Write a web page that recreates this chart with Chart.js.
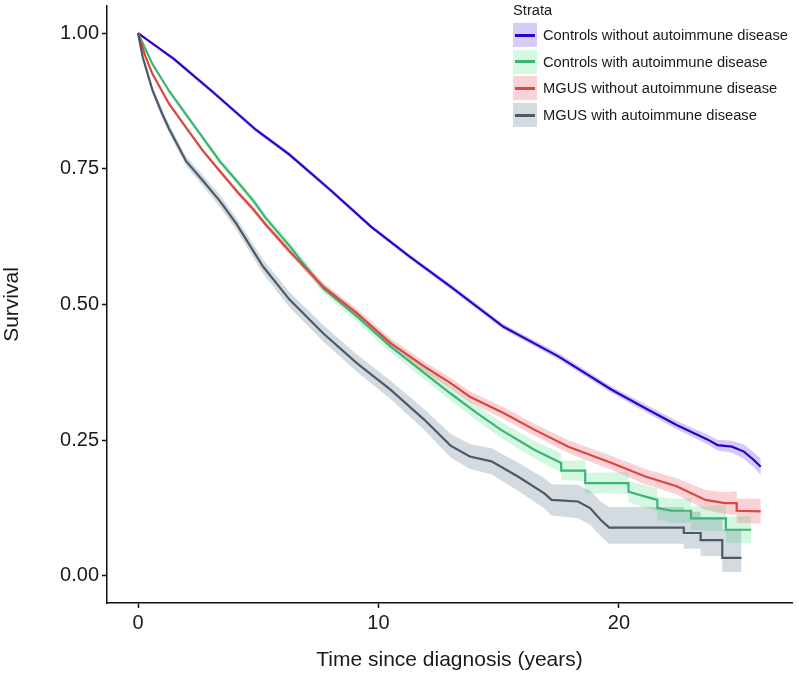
<!DOCTYPE html>
<html>
<head>
<meta charset="utf-8">
<style>
    body { margin: 0; background: #fff; }
    #wrap { position: relative; width: 799px; height: 674px; }
    #legend { position: absolute; left: 0; top: 0; font-family: "Liberation Sans", Arial, sans-serif; color: #1a1a1a; }
    #legend .title { position: absolute; left: 513px; top: 2px; font-size: 14.7px; white-space: nowrap; }
    #legend .item { position: absolute; left: 513px; height: 24px; white-space: nowrap; }
    #legend .key { position: absolute; left: 0; top: 0; width: 24px; height: 24px; }
    #legend .key span { position: absolute; left: 2px; top: 10.5px; width: 20px; height: 3px; }
    #legend .label { position: absolute; left: 30px; top: 3px; font-size: 14.7px; line-height: 18px; }
</style>
<script src="https://cdn.jsdelivr.net/npm/chart.js"></script>
</head>
<body>
<div id="wrap">
    <canvas id="survChart"></canvas>
    <div id="legend"></div>
</div>
<script>
    // strata names
    const strata = [
        'Controls without autoimmune disease',
        'Controls with autoimmune disease',
        'MGUS without autoimmune disease',
        'MGUS with autoimmune disease'
    ];
    const xTicks = [0, 10, 20];
    const yTicks = [0, 0.25, 0.5, 0.75, 1];

    // Controls without autoimmune disease
    const ctrlNoTime = [0, 1.5, 3.1, 4.9, 6.3, 8.0, 9.7, 11.3, 13.0, 15.2, 17.5, 19.7, 21.1, 22.4, 23.7, 24.1, 24.7, 25.2, 25.6, 25.9];
    const ctrlNoSurv = [1, 0.952, 0.892, 0.822, 0.776, 0.711, 0.643, 0.588, 0.533, 0.459, 0.404, 0.343, 0.309, 0.278, 0.251, 0.241, 0.238, 0.229, 0.214, 0.201];
    const ctrlNoLow  = [1, 0.948, 0.888, 0.818, 0.772, 0.707, 0.639, 0.584, 0.528, 0.454, 0.398, 0.337, 0.302, 0.270, 0.242, 0.231, 0.227, 0.216, 0.200, 0.186];
    const ctrlNoHigh = [1, 0.956, 0.896, 0.826, 0.780, 0.715, 0.647, 0.592, 0.538, 0.464, 0.410, 0.349, 0.316, 0.286, 0.260, 0.251, 0.249, 0.242, 0.228, 0.216];

    // Controls with autoimmune disease
    const ctrlAiTime = [0, 0.6, 1.3, 2.0, 2.7, 3.4, 4.1, 4.8, 5.3, 6.3, 7.7, 9.1, 10.5, 11.9, 13.0, 14.1, 15.1, 16.5, 17.6, 17.6, 18.6, 18.6, 20.4, 20.4, 21.1, 21.6, 21.6, 22.2, 23.0, 23.0, 24.45, 24.45, 25.5];
    const ctrlAiSurv = [1, 0.943, 0.893, 0.850, 0.807, 0.764, 0.728, 0.691, 0.660, 0.608, 0.530, 0.478, 0.423, 0.374, 0.336, 0.300, 0.269, 0.232, 0.208, 0.194, 0.194, 0.171, 0.171, 0.155, 0.146, 0.140, 0.125, 0.120, 0.120, 0.106, 0.106, 0.085, 0.085];
    const ctrlAiLow  = [1, 0.940, 0.889, 0.845, 0.802, 0.758, 0.722, 0.684, 0.653, 0.600, 0.521, 0.468, 0.412, 0.362, 0.323, 0.286, 0.254, 0.216, 0.190, 0.176, 0.175, 0.152, 0.151, 0.135, 0.125, 0.119, 0.104, 0.098, 0.098, 0.084, 0.082, 0.061, 0.060];
    const ctrlAiHigh = [1, 0.946, 0.897, 0.855, 0.812, 0.770, 0.734, 0.698, 0.667, 0.616, 0.539, 0.488, 0.434, 0.386, 0.349, 0.314, 0.284, 0.248, 0.226, 0.212, 0.213, 0.190, 0.191, 0.175, 0.167, 0.161, 0.146, 0.142, 0.142, 0.128, 0.130, 0.109, 0.110];

    // MGUS without autoimmune disease
    const mgusNoTime = [0, 0.3, 0.6, 1.0, 1.3, 2.0, 2.7, 3.4, 4.1, 4.8, 5.3, 6.3, 7.7, 9.1, 10.5, 11.9, 13.0, 13.8, 15.2, 16.5, 17.9, 19.7, 21.1, 22.4, 23.6, 24.4, 24.9, 24.9, 25.9];
    const mgusNoSurv = [1, 0.958, 0.925, 0.893, 0.869, 0.826, 0.783, 0.746, 0.709, 0.675, 0.648, 0.598, 0.533, 0.484, 0.429, 0.386, 0.355, 0.330, 0.300, 0.269, 0.238, 0.208, 0.183, 0.165, 0.140, 0.134, 0.134, 0.120, 0.119];
    const mgusNoLow  = [1, 0.956, 0.922, 0.890, 0.866, 0.822, 0.779, 0.742, 0.704, 0.670, 0.643, 0.592, 0.526, 0.476, 0.420, 0.377, 0.345, 0.320, 0.289, 0.258, 0.226, 0.195, 0.169, 0.150, 0.122, 0.114, 0.112, 0.098, 0.096];
    const mgusNoHigh = [1, 0.960, 0.928, 0.896, 0.872, 0.830, 0.787, 0.750, 0.714, 0.680, 0.653, 0.604, 0.540, 0.492, 0.438, 0.395, 0.365, 0.340, 0.311, 0.280, 0.250, 0.221, 0.197, 0.180, 0.158, 0.154, 0.156, 0.142, 0.142];

    // MGUS with autoimmune disease
    const mgusAiTime = [0, 0.2, 0.6, 1.0, 1.3, 2.0, 2.7, 3.4, 4.1, 5.2, 6.3, 7.7, 9.1, 10.5, 11.9, 13.0, 13.8, 14.7, 15.8, 16.9, 17.2, 18.3, 18.8, 19.25, 19.6, 22.7, 22.7, 23.4, 23.4, 24.3, 24.3, 25.1];
    const mgusAiSurv = [1, 0.955, 0.895, 0.852, 0.823, 0.764, 0.728, 0.691, 0.648, 0.570, 0.509, 0.447, 0.392, 0.343, 0.288, 0.240, 0.220, 0.211, 0.183, 0.152, 0.140, 0.137, 0.125, 0.103, 0.089, 0.089, 0.079, 0.079, 0.066, 0.066, 0.033, 0.033];
    const mgusAiLow  = [1, 0.950, 0.888, 0.844, 0.815, 0.755, 0.718, 0.680, 0.637, 0.557, 0.495, 0.432, 0.376, 0.326, 0.269, 0.218, 0.197, 0.187, 0.157, 0.124, 0.111, 0.106, 0.094, 0.073, 0.059, 0.059, 0.050, 0.050, 0.037, 0.036, 0.007, 0.007];
    const mgusAiHigh = [1, 0.960, 0.902, 0.860, 0.831, 0.773, 0.738, 0.702, 0.659, 0.583, 0.523, 0.462, 0.408, 0.360, 0.307, 0.262, 0.243, 0.235, 0.209, 0.180, 0.169, 0.168, 0.157, 0.137, 0.127, 0.127, 0.118, 0.118, 0.108, 0.108, 0.085, 0.085];

    const lineColors = ['#2f00c8', '#3db374', '#d9483e', '#4d5966'];
    const bandColors = ['rgba(110, 80, 235, 0.30)', 'rgba(60, 220, 120, 0.22)', 'rgba(232, 72, 92, 0.25)', 'rgba(80, 110, 130, 0.25)'];
    const keyColors = ['#d5cdf8', '#d6f7e2', '#f8d3d8', '#d4dbe0'];

    const series = [
        { t: ctrlNoTime, s: ctrlNoSurv, lo: ctrlNoLow, hi: ctrlNoHigh },
        { t: ctrlAiTime, s: ctrlAiSurv, lo: ctrlAiLow, hi: ctrlAiHigh },
        { t: mgusNoTime, s: mgusNoSurv, lo: mgusNoLow, hi: mgusNoHigh },
        { t: mgusAiTime, s: mgusAiSurv, lo: mgusAiLow, hi: mgusAiHigh }
    ];

    function pts(t, v) {
        return t.map((x, i) => ({ x: x, y: v[i] }));
    }

    const datasets = [];
    series.forEach((sr, i) => {
        // ribbon: lower edge, then upper edge filled down to it
        datasets.push({
            label: strata[i] + ' lower', data: pts(sr.t, sr.lo),
            borderWidth: 0, pointRadius: 0, fill: false, order: 7 - i
        });
        datasets.push({
            label: strata[i] + ' upper', data: pts(sr.t, sr.hi),
            borderWidth: 0, pointRadius: 0, fill: '-1',
            backgroundColor: bandColors[i], order: 7 - i
        });
    });
    series.forEach((sr, i) => {
        datasets.push({
            label: strata[i], data: pts(sr.t, sr.s),
            borderColor: lineColors[i], borderWidth: 2.2,
            pointRadius: 0, fill: false, tension: 0, order: 3 - i
        });
    });

    const font = '"Liberation Sans", Arial, sans-serif';

    new Chart(document.getElementById('survChart'), {
        type: 'line',
        data: { datasets: datasets },
        options: {
            responsive: true,
            maintainAspectRatio: false,
            animation: false,
            layout: { padding: { top: 6, right: 7, left: 0, bottom: 0 } },
            plugins: { legend: { display: false }, tooltip: { enabled: false } },
            scales: {
                x: {
                    type: 'linear',
                    min: -1.29, max: 27.2,
                    afterBuildTicks: s => { s.ticks = xTicks.map(v => ({ value: v })); },
                    afterFit: s => { s.height = 71; },
                    grid: { drawOnChartArea: false, tickLength: 5, tickWidth: 1.5, tickColor: '#111' },
                    border: { display: true, color: '#111', width: 1.5 },
                    ticks: { color: '#1a1a1a', font: { family: font, size: 20 }, padding: 3, maxRotation: 0 },
                    title: { display: true, text: 'Time since diagnosis (years)', color: '#1a1a1a',
                             font: { family: font, size: 21 }, padding: { top: 0, bottom: 1 } }
                },
                y: {
                    type: 'linear',
                    min: -0.05, max: 1.05,
                    afterBuildTicks: s => { s.ticks = yTicks.map(v => ({ value: v })); },
                    afterFit: s => { s.width = 107; s.paddingTop = 0; s.paddingBottom = 0; },
                    grid: { drawOnChartArea: false, tickLength: 5, tickWidth: 1.5, tickColor: '#111' },
                    border: { display: true, color: '#111', width: 1.5 },
                    ticks: { color: '#1a1a1a', font: { family: font, size: 20 }, padding: 3,
                             callback: v => v.toFixed(2) },
                    title: { display: true, text: 'Survival', color: '#1a1a1a',
                             font: { family: font, size: 21 }, padding: { top: 0, bottom: 0 } }
                }
            }
        }
    });

    // legend drawn as html on top of the plot
    const legendEl = document.getElementById('legend');
    let html = '<div class="title">Strata</div>';
    strata.forEach((name, i) => {
        const top = 23 + i * 26.7;
        html += `<div class="item" style="top:${top}px">
            <div class="key" style="background:${keyColors[i]}"><span style="background:${lineColors[i]}"></span></div>
            <div class="label">${name}</div></div>`;
    });
    legendEl.innerHTML = html;
</script>
</body>
</html>
